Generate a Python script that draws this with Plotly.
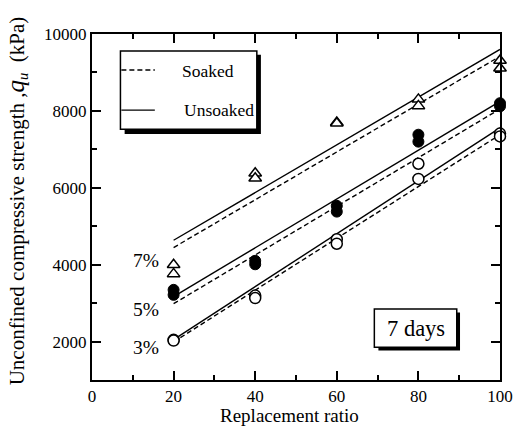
import plotly.graph_objects as go

# ---- data ----
x_ratio = [20, 40, 60, 80, 100]
q7_a = [4000, 6380, 7700, 8300, 9310]
q7_b = [3760, 6250, 7680, 8130, 9110]
q5_a = [3345, 4100, 5530, 7380, 8200]
q5_b = [3215, 4010, 5380, 7200, 8120]
q3_a = [2045, 3195, 4660, 6625, 7410]
q3_b = [2025, 3130, 4545, 6230, 7335]

fit_x = [20, 100]
fit7_unsoaked = [4635, 9600]
fit7_soaked = [4445, 9420]
fit5_unsoaked = [3170, 8245]
fit5_soaked = [2985, 8050]
fit3_unsoaked = [2050, 7560]
fit3_soaked = [1990, 7380]

x_ticks = [0, 20, 40, 60, 80, 100]
y_ticks = [2000, 4000, 6000, 8000, 10000]

FONT = "Liberation Serif"
fig = go.Figure()

for yv in (fit7_soaked, fit5_soaked, fit3_soaked):
    fig.add_trace(go.Scatter(x=fit_x, y=yv, mode="lines",
                             line=dict(color="black", width=1.4, dash="5px,3px"),
                             showlegend=False, hoverinfo="skip"))
for yv in (fit7_unsoaked, fit5_unsoaked, fit3_unsoaked):
    fig.add_trace(go.Scatter(x=fit_x, y=yv, mode="lines",
                             line=dict(color="black", width=1.4),
                             showlegend=False, hoverinfo="skip"))

for yv in (q7_a, q7_b):
    fig.add_trace(go.Scatter(x=x_ratio, y=yv, mode="markers", cliponaxis=False,
                             marker=dict(symbol="triangle-up", size=11, color="white",
                                         line=dict(color="black", width=1.5)),
                             showlegend=False))
for yv in (q5_a, q5_b):
    fig.add_trace(go.Scatter(x=x_ratio, y=yv, mode="markers", cliponaxis=False,
                             marker=dict(symbol="circle", size=11, color="black",
                                         line=dict(color="black", width=1)),
                             showlegend=False))
for yv in (q3_a, q3_b):
    fig.add_trace(go.Scatter(x=x_ratio, y=yv, mode="markers", cliponaxis=False,
                             marker=dict(symbol="circle", size=11, color="white",
                                         line=dict(color="black", width=1.5)),
                             showlegend=False))

axis_common = dict(showgrid=False, zeroline=False, showline=True, linecolor="black",
                   linewidth=2, mirror="allticks", ticks="inside", ticklen=9,
                   tickwidth=1.5, tickcolor="black", tickformat="d",
                   tickfont=dict(family=FONT, size=17, color="black"))

fig.update_xaxes(range=[0, 100], tickvals=x_ticks,
                 minor=dict(ticks="inside", ticklen=5, tickwidth=1.5, dtick=10,
                            tickcolor="black"),
                 **axis_common)
fig.update_yaxes(range=[1000, 10000], tickvals=y_ticks,
                 minor=dict(ticks="inside", ticklen=5, tickwidth=1.5,
                            tickvals=[1000, 3000, 5000, 7000, 9000], tickcolor="black"),
                 **axis_common)

shapes = []
# legend box with shadow
shapes.append(dict(type="rect", xref="paper", yref="paper", x0=0.080, x1=0.414,
                   y0=0.711, y1=0.940, fillcolor="black", line=dict(width=0)))
shapes.append(dict(type="rect", xref="paper", yref="paper", x0=0.0697, x1=0.404,
                   y0=0.725, y1=0.951, fillcolor="white", line=dict(color="black", width=1.5)))
shapes.append(dict(type="line", xref="paper", yref="paper", x0=0.072, x1=0.154,
                   y0=0.896, y1=0.896, line=dict(color="black", width=1.4, dash="5px,3px")))
shapes.append(dict(type="line", xref="paper", yref="paper", x0=0.072, x1=0.154,
                   y0=0.780, y1=0.780, line=dict(color="black", width=1.4)))
# 7 days box with shadow
shapes.append(dict(type="rect", xref="paper", yref="paper", x0=0.702, x1=0.902,
                   y0=0.085, y1=0.195, fillcolor="black", line=dict(width=0)))
shapes.append(dict(type="rect", xref="paper", yref="paper", x0=0.692, x1=0.894,
                   y0=0.095, y1=0.205, fillcolor="white", line=dict(color="black", width=1.5)))
fig.update_layout(shapes=shapes)

ann = []
def txt(text, x, y, size, xref="paper", yref="paper", xanchor="center",
        yanchor="middle", **kw):
    ann.append(dict(text=text, x=x, y=y, xref=xref, yref=yref, xanchor=xanchor,
                    yanchor=yanchor, showarrow=False,
                    font=dict(family=FONT, size=size, color="black"), **kw))

txt("Soaked", 0.284, 0.893, 17.5)
txt("Unsoaked", 0.311, 0.780, 17.5)
txt("7 days", 0.793, 0.150, 22.5)
for lbl, yv in (("7%", 4110), ("5%", 2840), ("3%", 1840)):
    txt(lbl, 16.8, yv, 19.5, xref="x", yref="y", xanchor="right")
txt("Replacement ratio", 0.483, -0.1345, 19, yanchor="bottom", borderpad=0)
txt("Unconfined compressive strength ,<i><span style='font-size:25px'>q</span>"
    "<sub>u</sub></i>  (kPa)", -0.185, 0.518, 21, textangle=-90)
fig.update_layout(annotations=ann)

fig.update_layout(width=525, height=427, margin=dict(l=92, r=17, t=34, b=47),
                  paper_bgcolor="white", plot_bgcolor="white", showlegend=False)

fig.write_html("out.html")
